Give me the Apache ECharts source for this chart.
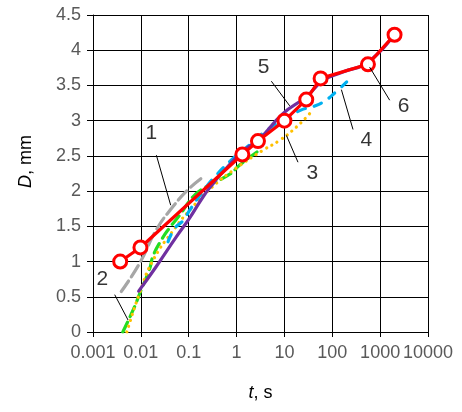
<!DOCTYPE html>
<html><head><meta charset="utf-8">
<script src="https://cdn.jsdelivr.net/npm/echarts@6/dist/echarts.min.js"></script>
<style>html,body{margin:0;padding:0;background:#fff}#c{width:462px;height:412px}</style>
</head><body><div id="c"></div>
<script>
// x tick labels (log axis, decades)
const xTickLabels = ['0.001','0.01','0.1','1','10','100','1000','10000'];

// Curve 1 (gray dashed)
const c1T = [0.0039, 0.0095, 0.021, 0.047, 0.1, 0.2];
const c1D = [0.575, 0.98, 1.45, 1.78, 2.03, 2.20];
// Curve 2 (green dashed)
const c2T = [0.0042, 0.0074, 0.0095, 0.0153, 0.018, 0.027, 0.04, 0.065, 0.123, 0.216, 0.72, 1.16, 3.0];
const c2D = [0, 0.36, 0.55, 0.90, 1.08, 1.31, 1.48, 1.66, 1.92, 2.05, 2.24, 2.37, 2.58];
// Curve 3 (orange dotted)
const c3T = [0.0051, 0.0095, 0.018, 0.051, 0.105, 0.3, 1.0, 3.56, 7.9, 17.8, 33.7];
const c3D = [0, 0.56, 1.02, 1.47, 1.73, 2.05, 2.33, 2.58, 2.72, 2.91, 3.10];
// Curve 4 (blue dashed)
const c4T = [0.037, 0.051, 0.076, 0.105, 0.2, 0.38, 1.0, 1.5, 4, 10, 22, 40, 70, 120, 200];
const c4D = [1.28, 1.47, 1.58, 1.73, 2.0, 2.23, 2.51, 2.60, 2.85, 3.02, 3.15, 3.20, 3.28, 3.41, 3.55];
// Curve 5 (purple solid)
const c5T = [0.009, 0.021, 0.055, 0.105, 0.2, 0.3, 0.5, 1.32, 3, 9.3, 28.6, 64, 166, 556, 2000];
const c5D = [0.58, 0.93, 1.35, 1.62, 1.92, 2.08, 2.26, 2.56, 2.74, 3.10, 3.34, 3.57, 3.69, 3.83, 4.23];
// Curve 6 (red with circles)
const c6T = [0.0037, 0.0098, 1.32, 2.8, 10, 28.6, 57, 556, 2000];
const c6D = [1.0, 1.2, 2.52, 2.71, 3.0, 3.30, 3.60, 3.80, 4.22];

// Curve number labels and leader lines (data coordinates)
const labelText = ['1','2','3','4','5','6'];
const labelT = [0.0166, 0.00157, 38.4, 515, 3.69, 3090];
const labelD = [2.82, 0.75, 2.25, 2.72, 3.76, 3.20];
const leaderT1 = [0.0211, 0.00284, 19.2, 271, 5.33, 1585];
const leaderD1 = [2.51, 0.53, 2.41, 2.875, 3.56, 3.29];
const leaderT2 = [0.042, 0.0054, 11, 155, 12.9, 603];
const leaderD2 = [1.80, 0.17, 2.79, 3.44, 3.21, 3.76];

const zip = (a, b) => a.map((v, i) => [v, b[i]]);
const FONT = 'Liberation Sans';

const curve = (T, D, color, type, dash, extra) => Object.assign({
  type: 'line', data: zip(T, D), symbol: 'none', smooth: 0.5, silent: true,
  lineStyle: { color: color, width: 3.2, type: dash || type, cap: 'round' }
}, extra || {});

const series = [
  curve(c1T, c1D, '#A6A6A6', 'dashed', [13, 5]),
  curve(c2T, c2D, '#22DD22', 'dashed', [11, 6]),
  curve(c3T, c3D, '#FFC000', 'dotted', [0.1, 6]),
  curve(c4T, c4D, '#00B0F0', 'dashed', [8, 9]),
  curve(c5T, c5D, '#7030A0', 'solid', null),
  {
    type: 'line', data: zip(c6T, c6D), symbol: 'circle', symbolSize: 13, silent: true,
    lineStyle: { color: '#FF0000', width: 3.2 },
    itemStyle: { color: '#FFFFFF', borderColor: '#FF0000', borderWidth: 3 }, z: 5
  }
];
labelText.forEach((t, i) => {
  series.push({
    type: 'line', data: [[leaderT1[i], leaderD1[i]], [leaderT2[i], leaderD2[i]]],
    symbol: 'none', silent: true, lineStyle: { color: '#000', width: 1 }, z: 6
  });
});
series.push({
  type: 'scatter', symbolSize: 1, silent: true, z: 7,
  itemStyle: { color: 'rgba(0,0,0,0)' },
  data: labelText.map((t, i) => [labelT[i], labelD[i], t]),
  label: { show: true, position: 'inside', formatter: p => p.value[2],
           fontFamily: FONT, fontSize: 21, color: '#000' }
});

const chart = echarts.init(document.getElementById('c'), null, { renderer: 'canvas' });
chart.setOption({
  animation: false,
  backgroundColor: '#fff',
  grid: { left: 93, right: 34, top: 15, bottom: 80 },
  xAxis: {
    type: 'log', logBase: 10, min: 0.001, max: 10000,
    name: '{i|t}, s', nameLocation: 'middle', nameGap: 52,
    nameTextStyle: { fontFamily: FONT, fontSize: 18, color: '#000',
      rich: { i: { fontFamily: FONT, fontSize: 18, fontStyle: 'italic', color: '#000' } } },
    axisLine: { lineStyle: { color: '#000', width: 1 } },
    axisTick: { show: true, length: 5, lineStyle: { color: '#000' } },
    minorTick: { show: false },
    splitLine: { show: true, lineStyle: { color: '#000', width: 1 } },
    axisLabel: { fontFamily: FONT, fontSize: 18, color: '#595959', margin: 12,
      formatter: v => xTickLabels[Math.round(Math.log10(v)) + 3] }
  },
  yAxis: {
    type: 'value', min: 0, max: 4.5, interval: 0.5,
    name: '{i|D}, mm', nameLocation: 'middle', nameGap: 58, nameRotate: 90,
    nameTextStyle: { fontFamily: FONT, fontSize: 18, color: '#000', padding: [0, 0, 0, 24],
      rich: { i: { fontFamily: FONT, fontSize: 18, fontStyle: 'italic', color: '#000' } } },
    axisLine: { show: true, lineStyle: { color: '#000', width: 1 } },
    axisTick: { show: true, length: 6, lineStyle: { color: '#000' } },
    splitLine: { show: true, lineStyle: { color: '#000', width: 1 } },
    axisLabel: { fontFamily: FONT, fontSize: 18, color: '#595959', margin: 12 }
  },
  series: series
});
</script></body></html>
